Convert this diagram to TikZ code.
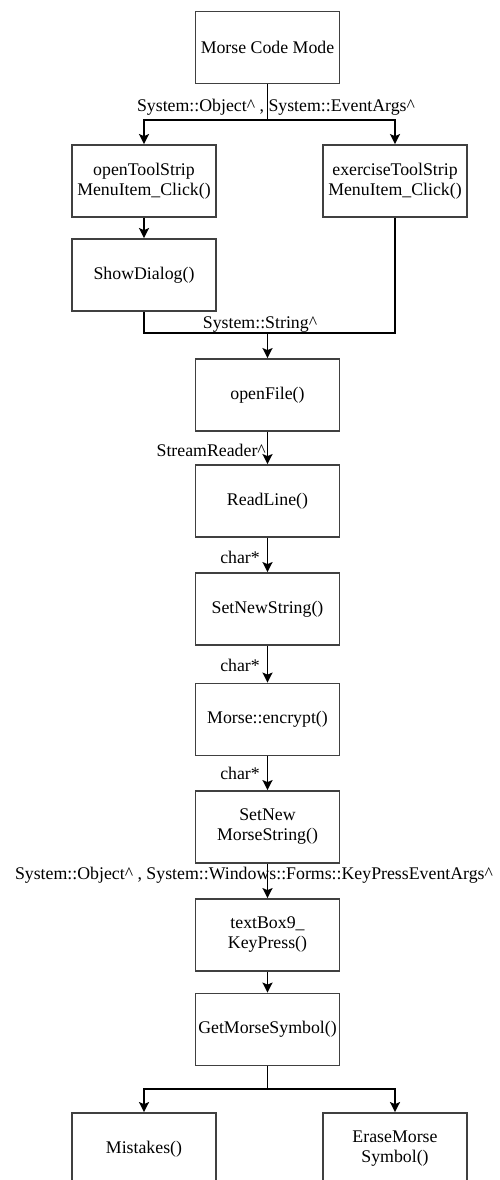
\documentclass[tikz,border=0pt]{standalone}
\usepackage{fontspec}
\setmainfont{Liberation Serif}
\usetikzlibrary{arrows.meta}
\tikzset{
    fnbox/.style={draw=black!75, line width=1.8pt, minimum width=144pt, minimum height=72pt, inner sep=0pt, align=center},
    ar/.style={-{Stealth[length=10pt,width=10pt,inset=2pt]}, line width=1.8pt},
    ln/.style={line width=1.8pt},
    lbl/.style={inner sep=0pt}
}
\begin{document}
\begin{tikzpicture}[x=1pt,y=-1pt,font=\fontsize{17.8}{20}\selectfont]
    \useasboundingbox (0,0) rectangle (500,1180);
    \clip (0,0) rectangle (500,1180);
    \node[fnbox] (mcm) at (267.5,47.5) {Morse Code Mode};
    \node[fnbox] (open) at (144,181) {openToolStrip\\MenuItem\_Click()};
    \node[fnbox] (exer) at (395,181) {exerciseToolStrip\\MenuItem\_Click()};
    \node[fnbox] (show) at (144,275) {ShowDialog()};
    \node[fnbox] (openf) at (267.5,395) {openFile()};
    \node[fnbox] (readl) at (267.5,501) {ReadLine()};
    \node[fnbox] (setns) at (267.5,609) {SetNewString()};
    \node[fnbox] (encr) at (267.5,719.5) {Morse::encrypt()};
    \node[fnbox] (setms) at (267.5,827) {SetNew\\MorseString()};
    \node[fnbox] (tbox) at (267.5,935) {textBox9\_\\KeyPress()};
    \node[fnbox] (getm) at (267.5,1029.5) {GetMorseSymbol()};
    \node[fnbox] (mist) at (144,1149) {Mistakes()};
    \node[fnbox] (erase) at (395,1149) {EraseMorse\\Symbol()};
    \coordinate (j1) at (267.5,120);
    \coordinate (j2) at (267.5,333);
    \coordinate (j3) at (267.5,1089);
    \draw[ln] (mcm) -- (j1);
    \draw[ar] (j1) -| (open);
    \draw[ar] (j1) -| (exer);
    \draw[ar] (open) -- (show);
    \draw[ln] (show.south) |- (j2);
    \draw[ln] (exer.south) |- (j2);
    \draw[ar] (j2) -- (openf);
    \draw[ar] (openf) -- (readl);
    \foreach \a/\b in {readl/setns, setns/encr, encr/setms, setms/tbox, tbox/getm}
        \draw[ar] (\a) -- (\b);
    \draw[ln] (getm) -- (j3);
    \draw[ar] (j3) -| (mist);
    \draw[ar] (j3) -| (erase);
    \node[lbl] (largs) at (276,107) {System::Object\textasciicircum\ , System::EventArgs\textasciicircum};
    \node[lbl] (lstr) at (260,325) {System::String\textasciicircum};
    \node[lbl, anchor=east] (lsr) at (266,450) {StreamReader\textasciicircum};
    \node[lbl, anchor=east] (lc1) at (260,557) {char*};
    \node[lbl, anchor=east] (lc2) at (260,665) {char*};
    \node[lbl, anchor=east] (lc3) at (260,773) {char*};
    \node[lbl] (lkey) at (254,875) {System::Object\textasciicircum\ , System::Windows::Forms::KeyPressEventArgs\textasciicircum};
\end{tikzpicture}
\end{document}
